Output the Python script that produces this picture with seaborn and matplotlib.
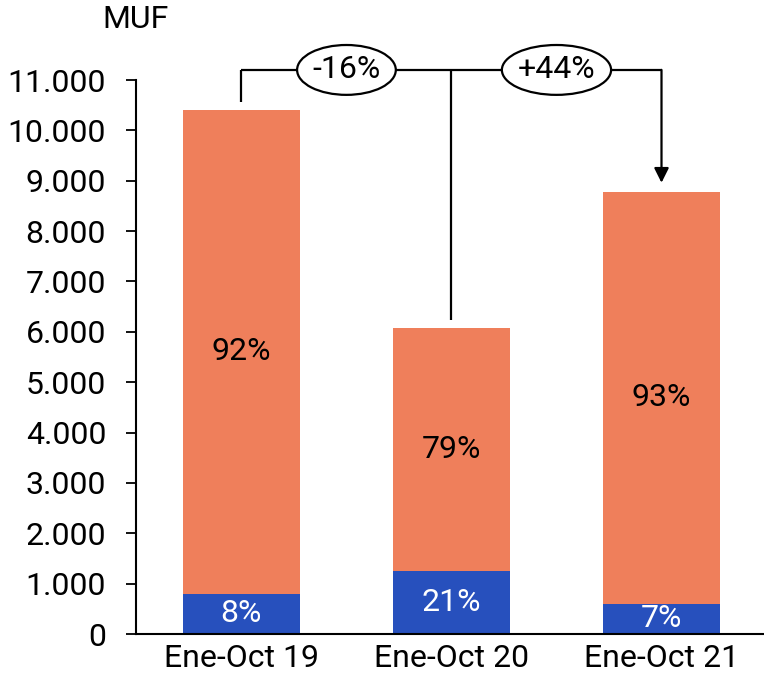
import matplotlib
matplotlib.use("Agg")
import matplotlib.pyplot as plt
from matplotlib.patches import Ellipse
from matplotlib.ticker import FuncFormatter
import seaborn as sns
import pandas as pd

# Data (MUF)
periods = ["Ene-Oct 19", "Ene-Oct 20", "Ene-Oct 21"]
totals = [10400, 6080, 8780]
blue_part = [800, 1250, 600]
y_ticks = list(range(0, 11001, 1000))

ORANGE = "#EF7F5B"
BLUE = "#2750BD"
FS = 23

sns.set_theme(style="white")
plt.rcParams["font.family"] = ["Roboto", "DejaVu Sans"]

df = pd.DataFrame({"period": periods, "total": totals, "blue": blue_part})

fig = plt.figure(figsize=(7.64, 6.77), dpi=100)
ax = fig.add_axes([136 / 764, 43 / 677, (764 - 136) / 764, (634 - 80) / 677])

bw = 0.557
sns.barplot(data=df, x="period", y="total", color=ORANGE, saturation=1,
            width=bw, ax=ax, edgecolor="none", linewidth=0)
sns.barplot(data=df, x="period", y="blue", color=BLUE, saturation=1,
            width=bw, ax=ax, edgecolor="none", linewidth=0)

ax.set_ylim(0, 11000)
ax.set_xlim(-0.502, 2.488)
ax.set_yticks(y_ticks)
ax.yaxis.set_major_formatter(FuncFormatter(lambda v, p: f"{int(v):,}".replace(",", ".")))
ax.set_xlabel("")
ax.set_ylabel("")

for s in ["top", "right"]:
    ax.spines[s].set_visible(False)
for s in ["left", "bottom"]:
    ax.spines[s].set_color("black")
    ax.spines[s].set_linewidth(1.5)

ax.tick_params(axis="y", which="major", left=True, length=7.5, width=1.3,
               color="black", labelsize=FS, pad=14, labelcolor="black")
ax.tick_params(axis="x", length=0, labelsize=FS, pad=7, labelcolor="black")

# Share labels inside each segment
for i, (t, b) in enumerate(zip(totals, blue_part)):
    orange = t - b
    ax.text(i, b + orange / 2, f"{round(orange / t * 100)}%", ha="center",
            va="center", fontsize=FS, color="black")
    ax.text(i, b / 2, f"{round(b / t * 100)}%", ha="center", va="center",
            fontsize=FS, color="white")

# Connector with change badges
y_line = 11200
lw = 1.6
ax.plot([0, 0], [totals[0] + 160, y_line], color="black", lw=lw, clip_on=False,
        solid_capstyle="butt")
ax.plot([0, 2], [y_line, y_line], color="black", lw=lw, clip_on=False,
        solid_capstyle="butt")
ax.plot([1, 1], [totals[1] + 160, y_line], color="black", lw=lw, clip_on=False,
        solid_capstyle="butt")
ax.annotate("", xy=(2, totals[2] + 180), xytext=(2, y_line),
            arrowprops=dict(arrowstyle="-|>", mutation_scale=22, lw=lw,
                            color="black", shrinkA=0, shrinkB=0),
            annotation_clip=False)

chg1 = round((totals[2] / totals[0] - 1) * 100)
chg2 = round((totals[2] / totals[1] - 1) * 100)
badges = [(0.5, f"{chg1:+d}%", 0.47), (1.5, f"{chg2:+d}%", 0.52)]
for xc, label, w in badges:
    e = Ellipse((xc, y_line), width=w, height=990, facecolor="white",
                edgecolor="black", lw=lw, clip_on=False, zorder=5)
    ax.add_patch(e)
    ax.text(xc, y_line, label, ha="center", va="center", fontsize=FS,
            color="black", zorder=6, clip_on=False)

fig.text(136 / 764, 1 - 28 / 677, "MUF", ha="center", va="baseline",
         fontsize=FS, color="black")

fig.savefig("out.png", dpi=100)
